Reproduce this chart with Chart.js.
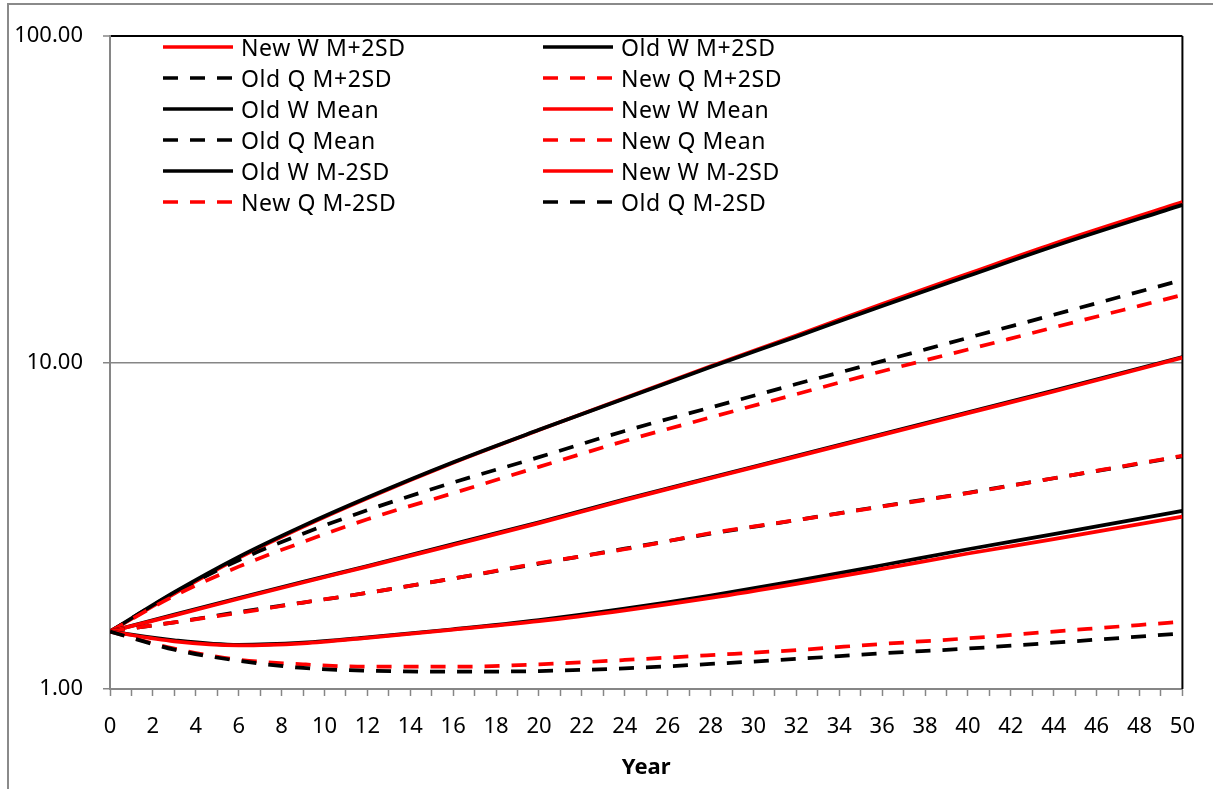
<!DOCTYPE html>
<html lang="en">
<head>
  <meta charset="UTF-8" />
  <title>Old vs New W / Q projections</title>
  <style>
    body {
      margin: 0;
      background: #fff;
      font-family: 'Noto Sans', sans-serif;
    }
    #wrap {
      position: relative;
      width: 1213px;
      height: 789px;
      overflow: hidden;
    }
    #frame {
      position: absolute;
      left: 7px;
      top: 3px;
      width: 1400px;
      height: 1000px;
      border: 2px solid #8a8a8a;
    }
    canvas#chart {
      position: absolute;
      left: 0;
      top: 0;
    }
    #legend {
      position: absolute;
      left: 163px;
      top: 31px;
      display: grid;
      grid-template-columns: 380px 300px;
      grid-auto-rows: 31px;
    }
    .item {
      display: flex;
      align-items: center;
      font-size: 23px;
      letter-spacing: 0.6px;
      color: #000;
      white-space: nowrap;
    }
    .item svg { margin-right: 8px; }
  </style>
</head>
<body>
  <div id="wrap">
    <div id="frame"></div>
    <canvas id="chart" width="1213" height="789"></canvas>
    <div id="legend"></div>
  </div>

  <script src="https://cdn.jsdelivr.net/npm/chart.js"></script>
  <script>
    const years = [0, 3, 6, 9, 12, 16, 20, 24, 28, 32, 36, 40, 44, 50];

    const newWHigh = [1.50, 1.96, 2.52, 3.14, 3.84, 4.93, 6.21, 7.78, 9.74, 12.1, 15.1, 18.7, 23.1, 31.0];
    const oldWHigh = [1.50, 1.98, 2.54, 3.16, 3.86, 4.95, 6.22, 7.76, 9.68, 12.0, 14.9, 18.4, 22.7, 30.4];
    const oldQHigh = [1.50, 1.97, 2.48, 2.99, 3.53, 4.29, 5.13, 6.17, 7.28, 8.59, 10.1, 11.9, 14.0, 17.9];
    const newQHigh = [1.50, 1.93, 2.37, 2.82, 3.31, 3.98, 4.79, 5.75, 6.79, 8.00, 9.40, 10.96, 12.8, 16.1];
    const oldWMean = [1.50, 1.69, 1.90, 2.13, 2.38, 2.78, 3.24, 3.81, 4.44, 5.18, 6.04, 7.04, 8.20, 10.4];
    const newWMean = [1.50, 1.68, 1.89, 2.12, 2.37, 2.76, 3.22, 3.79, 4.42, 5.15, 6.00, 7.00, 8.15, 10.35];
    const oldQMean = [1.50, 1.60, 1.72, 1.84, 1.97, 2.18, 2.42, 2.69, 2.99, 3.29, 3.63, 3.99, 4.42, 5.16];
    const newQMean = [1.50, 1.60, 1.71, 1.84, 1.97, 2.18, 2.43, 2.68, 3.00, 3.29, 3.62, 3.98, 4.42, 5.18];
    const oldWLow = [1.50, 1.41, 1.365, 1.386, 1.439, 1.524, 1.626, 1.762, 1.932, 2.143, 2.393, 2.679, 2.98, 3.51];
    const newWLow = [1.50, 1.40, 1.36, 1.38, 1.435, 1.52, 1.614, 1.742, 1.901, 2.099, 2.333, 2.60, 2.877, 3.373];
    const newQLow = [1.50, 1.33, 1.23, 1.19, 1.17, 1.17, 1.19, 1.227, 1.27, 1.316, 1.374, 1.43, 1.50, 1.607];
    const oldQLow = [1.50, 1.32, 1.22, 1.16, 1.138, 1.13, 1.135, 1.157, 1.193, 1.236, 1.286, 1.33, 1.386, 1.48];

    const yTickValues = [1, 10, 100];

    const RED = '#ff0000';
    const BLACK = '#000000';
    const SOLID = [];
    const DASH = [15, 12];
    const FONT = "'Noto Sans', sans-serif";

    // legend order (row by row, two columns)
    const series = [
      ['New W M+2SD', newWHigh, RED, SOLID],
      ['Old W M+2SD', oldWHigh, BLACK, SOLID],
      ['Old Q M+2SD', oldQHigh, BLACK, DASH],
      ['New Q M+2SD', newQHigh, RED, DASH],
      ['Old W Mean', oldWMean, BLACK, SOLID],
      ['New W Mean', newWMean, RED, SOLID],
      ['Old Q Mean', oldQMean, BLACK, DASH],
      ['New Q Mean', newQMean, RED, DASH],
      ['Old W M-2SD', oldWLow, BLACK, SOLID],
      ['New W M-2SD', newWLow, RED, SOLID],
      ['New Q M-2SD', newQLow, RED, DASH],
      ['Old Q M-2SD', oldQLow, BLACK, DASH]
    ];

    const datasets = series.map(([label, vals, color, dash], i) => ({
      label: label,
      data: years.map((yr, k) => ({ x: yr, y: vals[k] })),
      borderColor: color,
      backgroundColor: color,
      borderDash: dash,
      borderWidth: 3.75,
      pointRadius: 0,
      cubicInterpolationMode: 'monotone',
      order: -i   // later series on top, like the original
    }));

    const plotEdge = {
      id: 'plotEdge',
      beforeDatasetsDraw(chart) {
        const { ctx, chartArea: a } = chart;
        ctx.save();
        ctx.strokeStyle = '#000';
        ctx.lineWidth = 2;
        ctx.beginPath();
        ctx.moveTo(a.right, a.top);
        ctx.lineTo(a.right, a.bottom);
        ctx.stroke();
        ctx.restore();
      }
    };

    const chart = new Chart(document.getElementById('chart'), {
      type: 'line',
      data: { datasets },
      options: {
        responsive: false,
        animation: false,
        devicePixelRatio: 1,
        layout: { padding: { top: 36, right: 26, left: 0, bottom: 0 } },
        plugins: {
          legend: { display: false },
          tooltip: { enabled: false }
        },
        scales: {
          x: {
            type: 'linear',
            min: 0,
            max: 50,
            afterFit: s => { s.height = 100; },
            ticks: {
              stepSize: 1,
              maxTicksLimit: 100,
              autoSkip: false,
              maxRotation: 0,
              padding: 18,
              color: '#000',
              font: { size: 22, family: FONT },
              callback: v => (v % 2 === 0 ? String(v) : '')
            },
            grid: { drawOnChartArea: false, tickLength: 7, tickColor: '#868686', tickWidth: 1.5 },
            border: { color: '#868686', width: 2 },
            title: {
              display: true,
              text: 'Year',
              color: '#000',
              font: { size: 22, weight: 'bold', family: FONT },
              padding: { top: 0, bottom: 8 }
            }
          },
          y: {
            type: 'logarithmic',
            min: 1,
            max: 100,
            afterFit: s => { s.width = 110; },
            afterBuildTicks: s => { s.ticks = yTickValues.map(v => ({ value: v })); },
            ticks: {
              padding: 20,
              color: '#000',
              font: { size: 22, family: FONT },
              callback: v => Number(v).toFixed(2)
            },
            grid: {
              color: c => (c.tick && c.tick.value === 100 ? '#000' : '#868686'),
              lineWidth: c => (c.tick && c.tick.value === 100 ? 2 : 1.5),
              tickLength: 7,
              tickColor: '#868686',
              tickWidth: 1.5
            },
            border: { color: '#868686', width: 2 }
          }
        }
      },
      plugins: [plotEdge]
    });

    // legend drawn as html, two columns inside the plot area
    const legend = document.getElementById('legend');
    chart.data.datasets.forEach(ds => {
      const item = document.createElement('div');
      item.className = 'item';
      item.innerHTML =
        `<svg width="70" height="10"><line x1="0" y1="5" x2="70" y2="5" stroke="${ds.borderColor}" ` +
        `stroke-width="3.5" stroke-dasharray="${ds.borderDash.join(' ')}"/></svg><span>${ds.label}</span>`;
      legend.appendChild(item);
    });
  </script>
</body>
</html>
